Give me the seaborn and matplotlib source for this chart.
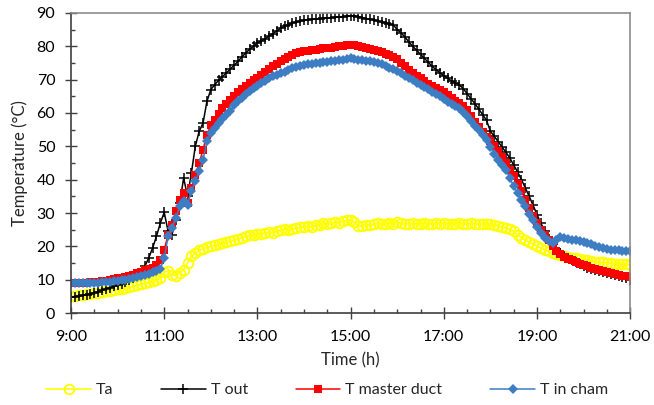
import numpy as np
import pandas as pd
import matplotlib
matplotlib.use("Agg")
import matplotlib.pyplot as plt
import seaborn as sns
from matplotlib.ticker import MultipleLocator

# time in decimal hours, sampled every 5 minutes from 9:00 to 21:00
time_h = 9 + np.arange(145) * 5 / 60

ta = [
    5.0, 5.2, 5.4, 5.5, 5.7, 5.8, 6.0, 6.1, 6.3, 6.5, 6.7, 6.9,
    7.1, 7.3, 7.5, 7.8, 8.0, 8.3, 8.6, 8.9, 9.2, 9.6, 10.0, 10.5,
    12.3, 12.5, 11.5, 11.2, 12.0, 13.0, 15.0, 17.0, 18.0, 18.8, 19.3, 19.7,
    20.0, 20.3, 20.6, 20.9, 21.3, 21.6, 21.9, 22.3, 22.6, 23.0, 23.3, 23.5,
    23.6, 23.8, 24.0, 24.3, 24.1, 24.5, 24.9, 25.1, 24.8, 25.3, 25.5, 25.7,
    25.9, 26.1, 25.8, 26.3, 26.5, 26.9, 26.6, 27.1, 27.3, 27.0, 27.5, 27.8,
    28.0, 27.2, 26.0, 26.2, 26.5, 26.3, 26.7, 26.9, 26.6, 26.8, 27.0, 26.8,
    27.4, 26.9, 26.7, 26.8, 26.9, 26.7, 26.8, 26.9, 26.7, 26.8, 26.9, 26.8,
    26.9, 26.8, 26.7, 26.8, 26.9, 26.8, 26.7, 26.9, 26.8, 26.7, 26.8, 26.7,
    26.6, 26.5, 26.2, 25.9, 25.5, 25.1, 24.6, 23.5, 22.6, 21.9, 21.2, 20.7,
    20.0, 19.5, 19.0, 18.5, 18.1, 17.7, 17.3, 17.0, 16.8, 16.6, 16.4, 16.2,
    16.0, 15.8, 15.6, 15.4, 15.3, 15.2, 15.0, 14.9, 14.8, 14.7, 14.6, 14.6,
    14.5,
]

t_out = [
    4.8, 4.9, 5.1, 5.3, 5.5, 5.8, 6.1, 6.4, 6.8, 7.2, 7.6, 8.0,
    8.4, 8.8, 9.3, 9.8, 10.4, 11.1, 12.0, 14.0, 16.5, 19.5, 23.0, 27.0,
    30.2, 24.5, 23.5, 27.9, 33.0, 40.5, 35.0, 42.0, 50.0, 54.5, 57.0, 63.5,
    67.0, 68.5, 69.8, 70.9, 72.0, 73.2, 74.3, 75.5, 76.8, 78.0, 79.1, 80.0,
    81.0, 81.6, 82.3, 83.0, 83.8, 84.6, 85.4, 86.0, 86.5, 87.0, 87.3, 87.6,
    87.8, 88.0, 88.1, 88.2, 88.3, 88.4, 88.5, 88.6, 88.7, 88.8, 88.9, 89.0,
    89.1, 89.0, 88.9, 88.6, 88.3, 88.1, 87.9, 87.6, 87.3, 87.0, 86.7, 86.4,
    85.0, 84.0, 82.8, 81.3, 80.0, 78.8, 77.6, 76.4, 75.2, 74.0, 73.0, 72.0,
    71.2, 70.4, 69.6, 69.0, 68.4, 67.3, 65.8, 64.3, 62.8, 61.2, 59.5, 57.8,
    54.5, 53.0, 51.4, 49.8, 48.2, 46.5, 44.4, 42.3, 40.0, 37.5, 35.0, 32.3,
    29.5, 27.0, 24.5, 22.3, 20.6, 19.2, 18.0, 17.1, 16.4, 15.8, 15.2, 14.6,
    14.0, 13.6, 13.2, 12.9, 12.6, 12.3, 12.0, 11.7, 11.4, 11.1, 10.8, 10.4,
    10.0,
]

t_master_duct = [
    8.9, 8.9, 9.0, 9.0, 9.1, 9.2, 9.3, 9.4, 9.5, 9.7, 9.9, 10.1,
    10.4, 10.6, 10.9, 11.2, 11.5, 11.9, 12.4, 12.8, 13.2, 13.6, 14.3, 16.0,
    19.0, 23.5, 26.5, 30.5, 34.0, 36.0, 33.0, 37.5, 41.5, 45.0, 49.0, 53.5,
    56.3, 58.0, 59.8, 61.5, 62.8, 64.0, 65.2, 66.3, 67.3, 68.2, 69.1, 69.9,
    70.6, 71.4, 72.3, 73.2, 74.0, 74.8, 75.6, 76.3, 76.9, 77.5, 77.9, 78.3,
    78.5, 78.7, 78.9, 79.0, 79.2, 79.4, 79.5, 79.6, 79.8, 80.0, 80.2, 80.3,
    80.4, 80.3, 80.1, 79.9, 79.6, 79.3, 79.0, 78.6, 78.2, 77.8, 77.4, 76.9,
    76.1, 75.1, 74.0, 73.0, 72.1, 71.2, 70.4, 69.6, 68.8, 68.1, 67.4, 66.8,
    66.2, 65.5, 64.6, 63.6, 62.9, 62.0, 60.8, 59.2, 57.4, 55.9, 54.4, 52.9,
    51.5, 50.2, 48.5, 46.8, 44.9, 43.0, 41.0, 38.8, 36.5, 34.0, 31.5, 29.0,
    27.0, 25.0, 23.3, 21.8, 20.0, 18.6, 17.6, 16.8, 16.3, 15.8, 15.3, 14.8,
    14.4, 14.0, 13.6, 13.2, 12.9, 12.6, 12.3, 12.0, 11.7, 11.5, 11.2, 11.0,
    10.8,
]

t_in_cham = [
    8.9, 8.9, 8.9, 9.0, 9.0, 9.0, 9.1, 9.1, 9.2, 9.3, 9.4, 9.5,
    9.7, 9.8, 10.0, 10.2, 10.4, 10.7, 11.0, 11.4, 11.8, 12.2, 12.6, 13.2,
    16.5, 23.0, 25.5, 28.5, 32.0, 33.5, 32.5, 36.5, 39.5, 42.5, 46.0, 51.5,
    54.0, 55.5, 57.0, 58.3, 59.4, 60.5, 62.3, 63.6, 64.6, 65.6, 66.6, 67.4,
    68.1, 68.9, 69.7, 70.4, 71.0, 71.5, 71.9, 72.4, 72.9, 73.4, 73.8, 74.1,
    74.4, 74.6, 74.8, 74.9, 75.1, 75.3, 75.4, 75.5, 75.7, 75.9, 76.0, 76.2,
    76.4, 76.2, 76.0, 75.8, 75.7, 75.5, 75.4, 75.1, 74.6, 74.0, 73.5, 73.1,
    72.6, 71.9, 71.2, 70.5, 69.8, 69.1, 68.5, 67.9, 67.2, 66.4, 65.7, 65.0,
    64.2, 63.4, 62.6, 62.0, 61.4, 60.4, 59.0, 57.6, 56.2, 54.8, 53.4, 52.0,
    49.8, 47.8, 45.9, 44.3, 42.9, 40.5, 38.0, 36.0, 34.0, 32.0, 29.8, 27.8,
    25.8, 24.0, 22.5, 21.5, 21.0, 21.8, 22.9, 22.6, 22.3, 22.0, 21.8, 21.5,
    21.3, 21.0, 20.6, 20.2, 19.8, 19.4, 19.1, 18.9, 18.8, 18.8, 18.7, 18.7,
    18.6,
]

x_tick_hours = [9, 11, 13, 15, 17, 19, 21]
x_tick_labels = ["9:00", "11:00", "13:00", "15:00", "17:00", "19:00", "21:00"]

series_names = ["Ta", "T out", "T master duct", "T in cham"]

sns.set_theme(style="white")
plt.rcParams["font.family"] = ["Lato", "DejaVu Sans"]

df = pd.DataFrame({
    "time": np.tile(time_h, 4),
    "temp": np.concatenate([ta, t_out, t_master_duct, t_in_cham]),
    "series": np.repeat(series_names, len(time_h)),
})

fig = plt.figure(figsize=(6.54, 4.05), dpi=100)
ax = fig.add_axes([0.1086, 0.227, 0.855, 0.741])

styles = {
    "Ta": dict(color="#FFFF00", marker="o", markersize=7, markerfacecolor="none",
               markeredgecolor="#FFFF00", markeredgewidth=1.3, linewidth=1.2),
    "T out": dict(color="black", marker="+", markersize=6.5, markeredgewidth=1.1,
                  markeredgecolor="black", linewidth=1.1),
    "T master duct": dict(color="#FF0000", marker="s", markersize=5.5,
                          markeredgewidth=0, linewidth=1.1),
    "T in cham": dict(color="#3C7DC4", marker="D", markersize=5,
                      markeredgewidth=0, linewidth=1.1),
}

for name in series_names:
    sub = df[df["series"] == name]
    sns.lineplot(data=sub, x="time", y="temp", ax=ax, label=name, **styles[name])

ax.set_xlim(9, 21)
ax.set_ylim(0, 90)
ax.set_xticks(x_tick_hours)
ax.set_xticklabels(x_tick_labels)
ax.xaxis.set_minor_locator(MultipleLocator(0.5))
ax.set_yticks(range(0, 91, 10))
ax.yaxis.set_minor_locator(MultipleLocator(5))

ax.tick_params(axis="both", which="major", direction="inout", length=8.6, width=1,
               color="#404040", labelsize=11.5, labelcolor="black",
               bottom=True, left=True)
ax.tick_params(axis="x", which="major", pad=8)
ax.tick_params(axis="y", which="major", pad=7)
ax.tick_params(axis="both", which="minor", direction="in", length=3, width=1,
               color="#404040", bottom=True, left=True)

for side in ["left", "bottom"]:
    ax.spines[side].set_color("#404040")
    ax.spines[side].set_linewidth(1.2)
for side in ["top", "right"]:
    ax.spines[side].set_color("#8C8C8C")
    ax.spines[side].set_linewidth(1.2)

ax.set_xlabel("Time (h)", fontsize=12, labelpad=6)
ax.set_ylabel("Temperature (°C)", fontsize=12, labelpad=6)

ax.legend_.remove()
handles, labels = ax.get_legend_handles_labels()
fig.legend(handles, labels, loc="center", bbox_to_anchor=(0.5, 0.037), ncol=4,
           frameon=False, fontsize=11.5, handlelength=2.8, handletextpad=0.3,
           columnspacing=3.0, markerscale=1.0)

fig.savefig("out.png", dpi=100)
